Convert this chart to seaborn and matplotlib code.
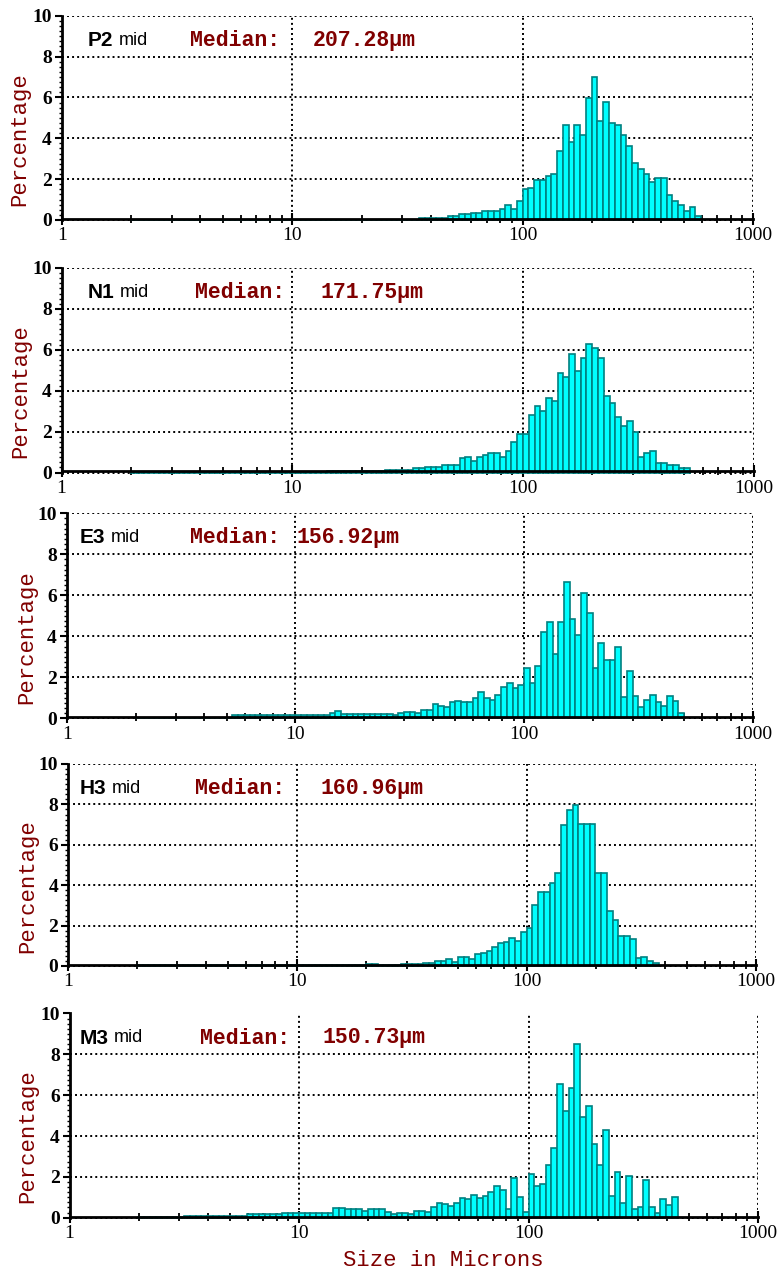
import numpy as np
import matplotlib
matplotlib.use("Agg")
import matplotlib.pyplot as plt
import seaborn as sns
from matplotlib.ticker import FixedLocator, LogLocator, NullFormatter, MultipleLocator

# ---------------- data ----------------
# Percent in each size channel; channels are 1/40 decade wide,
# the first channel starts at 10**(12/40) ~ 2 microns.
BINS_PER_DECADE = 40
FIRST_CHANNEL = 12

sample_names = ["P2", "N1", "E3", "H3", "M3"]
sample_suffix = ["mid", "mid", "mid", "mid", "mid"]
median_labels = ["207.28\u00b5m", "171.75\u00b5m", "156.92\u00b5m", "160.96\u00b5m", "150.73\u00b5m"]

pct_P2 = [
    0.02, 0.02, 0.02, 0.02, 0.02, 0.02, 0.02, 0.02, 0.02, 0.02,
    0.02, 0.02, 0.02, 0.02, 0.02, 0.02, 0.02, 0.02, 0.02, 0.02,
    0.02, 0.02, 0.02, 0.02, 0.02, 0.02, 0.02, 0.02, 0.02, 0.02,
    0.02, 0.02, 0.02, 0.02, 0.02, 0.02, 0.02, 0.02, 0.02, 0.02,
    0.02, 0.02, 0.02, 0.02, 0.02, 0.02, 0.02, 0.02, 0.02, 0.02,
    0.11, 0.11, 0.11, 0.11, 0.11, 0.21, 0.21, 0.28, 0.28, 0.36,
    0.36, 0.46, 0.46, 0.46, 0.54, 0.73, 0.54, 0.93,
    1.50, 1.58, 1.98, 1.98, 2.15, 2.23, 3.37, 4.67, 3.82, 4.67,
    4.18, 5.97, 6.99, 4.85, 5.77, 4.76, 4.67, 4.18, 3.61, 2.80,
    2.52, 2.23, 1.87, 2.07, 2.07, 1.22, 0.93, 0.73, 0.46, 0.65,
    0.21,
]

pct_N1 = [
    0.02, 0.02, 0.02, 0.02, 0.02, 0.02, 0.02, 0.02, 0.02, 0.02,
    0.02, 0.02, 0.02, 0.02, 0.02, 0.02, 0.02, 0.02, 0.02, 0.02,
    0.02, 0.02, 0.02, 0.02, 0.02, 0.02, 0.02, 0.02, 0.02, 0.02,
    0.02, 0.02, 0.02, 0.02,
    0.08, 0.08, 0.08, 0.08, 0.08, 0.08, 0.08, 0.08, 0.08, 0.08,
    0.11, 0.11, 0.11, 0.11, 0.11,
    0.23, 0.23, 0.28, 0.28, 0.28, 0.39, 0.36, 0.36, 0.69, 0.77,
    0.57, 0.77, 0.88, 0.96, 0.96, 0.77, 1.06, 1.50, 1.88,
    1.88, 2.81, 3.26, 3.02, 3.65, 3.49, 4.88, 4.68, 5.79, 4.98,
    5.61, 6.26, 6.10, 5.61, 3.75, 3.38, 2.69, 2.27, 2.54, 1.99,
    0.77, 0.93, 1.04, 0.47, 0.47, 0.36, 0.36, 0.23, 0.23,
]

pct_E3 = [
    0.03, 0.03, 0.03, 0.03, 0.03, 0.03, 0.03, 0.03, 0.03, 0.03,
    0.03, 0.03, 0.03, 0.03, 0.03, 0.03, 0.03,
    0.16, 0.16, 0.16, 0.16, 0.16, 0.16, 0.16, 0.16, 0.16, 0.16,
    0.16, 0.16, 0.16, 0.16, 0.16, 0.16, 0.16,
    0.24, 0.34,
    0.21, 0.21, 0.21, 0.21, 0.21, 0.21, 0.21, 0.21, 0.21,
    0.16, 0.24, 0.32, 0.32, 0.24, 0.41, 0.41, 0.70, 0.62, 0.53,
    0.78, 0.86, 0.78, 0.78, 0.99, 1.26, 0.97, 0.89, 1.15, 1.51,
    1.72, 1.46, 1.62,
    2.45, 1.72, 2.56, 4.23, 4.70, 3.13, 4.70, 6.65, 4.86, 4.07,
    6.09, 5.15, 2.45, 3.66, 2.85, 2.85, 3.48, 1.02, 2.29, 1.07,
    0.53, 0.89, 1.15, 0.78, 0.62, 1.07, 0.86, 0.24,
]

pct_H3 = [
    0.03, 0.03, 0.03, 0.03, 0.03, 0.03, 0.03, 0.03, 0.03, 0.03,
    0.03, 0.03, 0.03, 0.03, 0.03, 0.03, 0.03, 0.03, 0.03, 0.03,
    0.03, 0.03, 0.03, 0.03, 0.03, 0.03, 0.03, 0.03, 0.03, 0.03,
    0.03, 0.03, 0.03, 0.03, 0.03, 0.03, 0.03, 0.03, 0.03, 0.03,
    0.10, 0.10, 0.05, 0.05, 0.05, 0.05, 0.10, 0.10, 0.10, 0.10,
    0.16, 0.16, 0.26, 0.26, 0.35, 0.18, 0.46, 0.46, 0.35, 0.58,
    0.66, 0.74, 0.95, 1.12, 1.20, 1.40, 1.23, 1.69,
    1.89, 3.01, 3.67, 3.67, 4.11, 4.62, 6.99, 7.70, 7.99, 7.04,
    7.04, 7.04, 4.62, 4.62, 2.73, 2.27, 1.50, 1.50, 1.32, 0.38,
    0.46, 0.26, 0.16,
]

pct_M3 = [
    0.03, 0.03, 0.03, 0.03, 0.03, 0.03, 0.03, 0.03,
    0.10, 0.10, 0.10, 0.10, 0.10, 0.10, 0.10, 0.10, 0.10, 0.10, 0.10,
    0.16, 0.16, 0.16, 0.16, 0.16, 0.16,
    0.21, 0.21, 0.21, 0.21, 0.21, 0.21, 0.21, 0.21, 0.21,
    0.49, 0.49, 0.41, 0.41, 0.41, 0.33, 0.41, 0.41, 0.41, 0.29,
    0.16, 0.21, 0.21, 0.16, 0.33, 0.33, 0.29, 0.51, 0.70, 0.65,
    0.59, 0.70, 0.98, 0.90, 1.11, 0.98, 1.06, 1.27, 1.55, 1.36,
    0.42, 1.96, 1.03, 0.29,
    2.12, 1.57, 1.65, 2.58, 3.43, 6.53, 5.22, 6.33, 8.49, 4.91,
    5.47, 3.61, 2.58, 4.29, 1.08, 2.22, 0.73, 2.04, 0.42, 0.54,
    1.84, 0.54, 0.24, 0.90, 0.62, 1.00,
]

series = [pct_P2, pct_N1, pct_E3, pct_H3, pct_M3]

x_ticks = [1, 10, 100, 1000]
x_ticklabels = ["1", "10", "100", "1000"]
y_ticks = [0, 2, 4, 6, 8, 10]

# ---------------- layout (pixels in a 780 x 1273 canvas) ----------------
W, H = 780, 1273
# left, right, top (value 10), bottom (value 0) of each plotting area
panel_px = [
    (61.7, 753.0, 15.7, 220.0),
    (61.6, 753.7, 268.0, 472.5),
    (66.7, 752.7, 513.3, 718.3),
    (68.0, 756.0, 764.0, 966.0),
    (69.5, 758.0, 1013.5, 1217.7),
]
name_x = [88, 88, 80, 80, 80]
median_word_x = [190, 195, 190, 195, 200]
median_val_x = [313, 320, 297, 320, 323]
ylabel_x = [20, 21, 27, 28, 28]
Y_BOTTOM = -0.1  # small margin under zero so bar bottoms show under the axis line

DARK_RED = "#800000"
FILL = "#00FFFF"
EDGE = "#008080"

sns.set_theme(style="white")
plt.rcParams["font.family"] = ["Liberation Serif", "DejaVu Serif"]

fig = plt.figure(figsize=(W / 100, H / 100), dpi=100)

for i, vals in enumerate(series):
    l, r, t, b = panel_px[i]
    unit = (b - t) / 10.0
    b_ext = b - Y_BOTTOM * unit
    ax = fig.add_axes([l / W, 1 - b_ext / H, (r - l) / W, (b_ext - t) / H])
    ax.set_axisbelow(True)

    n = len(vals)
    ch = np.arange(FIRST_CHANNEL, FIRST_CHANNEL + n)
    centers = 10 ** ((ch + 0.5) / BINS_PER_DECADE)
    edges_log = list(np.arange(FIRST_CHANNEL, FIRST_CHANNEL + n + 1) / BINS_PER_DECADE)

    sns.histplot(x=centers, weights=vals, bins=edges_log, log_scale=True,
                 stat="count", ax=ax, color=FILL, edgecolor=EDGE,
                 linewidth=1.2, alpha=1.0)

    ax.set_xlim(1, 1000)
    ax.set_ylim(Y_BOTTOM, 10)
    ax.set_xlabel("")
    ax.set_ylabel("")

    ax.xaxis.set_major_locator(FixedLocator(x_ticks))
    ax.set_xticklabels(x_ticklabels)
    ax.xaxis.set_minor_locator(LogLocator(base=10, subs=np.arange(2, 10)))
    ax.xaxis.set_minor_formatter(NullFormatter())
    ax.yaxis.set_major_locator(FixedLocator(y_ticks))
    ax.set_yticklabels([str(v) for v in y_ticks])
    ax.yaxis.set_minor_locator(FixedLocator(np.arange(0, 10.01, 0.25)))

    ax.grid(True, which="major", color="black", linestyle=(0, (1, 1.6)),
            linewidth=1.4)
    ax.grid(False, which="minor")

    for s in ["top", "right"]:
        ax.spines[s].set_visible(False)
    for s in ["left", "bottom"]:
        ax.spines[s].set_visible(True)
        ax.spines[s].set_color("black")
        ax.spines[s].set_linewidth(2.0)
    ax.spines["bottom"].set_position(("data", 0.05))
    ax.spines["left"].set_bounds(0, 10)

    ax.tick_params(axis="x", which="major", direction="inout", length=8,
                   width=1.5, color="black", pad=2, labelsize=14,
                   labelcolor="black", bottom=True)
    ax.tick_params(axis="x", which="minor", direction="inout", length=6,
                   width=1.3, color="black", bottom=True)
    ax.tick_params(axis="y", which="major", direction="out", length=5,
                   width=1.5, color="black", pad=2, labelsize=14,
                   labelcolor="black", left=True)
    ax.tick_params(axis="y", which="minor", direction="out", length=2.5,
                   width=1.0, color="black", left=True)
    for lab in ax.get_yticklabels():
        lab.set_fontweight("bold")
        lab.set_family(["Liberation Serif", "DejaVu Serif"])
    for lab in ax.get_xticklabels():
        lab.set_family(["Liberation Serif", "DejaVu Serif"])

    # annotations
    ty = t + 24.5
    nm = fig.text(name_x[i] / W, 1 - ty / H, sample_names[i],
                  family=["Liberation Sans", "DejaVu Sans"], fontweight="bold",
                  fontsize=15, color="black", va="center", ha="left")
    fig.canvas.draw()
    bb = nm.get_window_extent(renderer=fig.canvas.get_renderer())
    fig.text((bb.x1 + 5) / W, 1 - ty / H, sample_suffix[i],
             family=["Liberation Sans", "DejaVu Sans"], fontsize=13,
             color="black", va="center", ha="left")
    fig.text(median_word_x[i] / W, 1 - ty / H, "Median:",
             family=["Liberation Mono", "DejaVu Sans Mono"], fontweight="bold",
             fontsize=15.5, color=DARK_RED, va="center", ha="left")
    fig.text(median_val_x[i] / W, 1 - ty / H, median_labels[i],
             family=["Liberation Mono", "DejaVu Sans Mono"], fontweight="bold",
             fontsize=15.5, color=DARK_RED, va="center", ha="left")

    yc = (t + b) / 2 + 21
    fig.text(ylabel_x[i] / W, 1 - yc / H, "Percentage",
             family=["Liberation Mono", "DejaVu Sans Mono"], fontsize=16,
             color=DARK_RED, rotation=90, va="center", ha="center")

fig.text(443 / W, 1 - 1261 / H, "Size in Microns",
         family=["Liberation Mono", "DejaVu Sans Mono"], fontsize=16,
         color=DARK_RED, va="center", ha="center")

fig.savefig("out.png", dpi=100, facecolor="white")
